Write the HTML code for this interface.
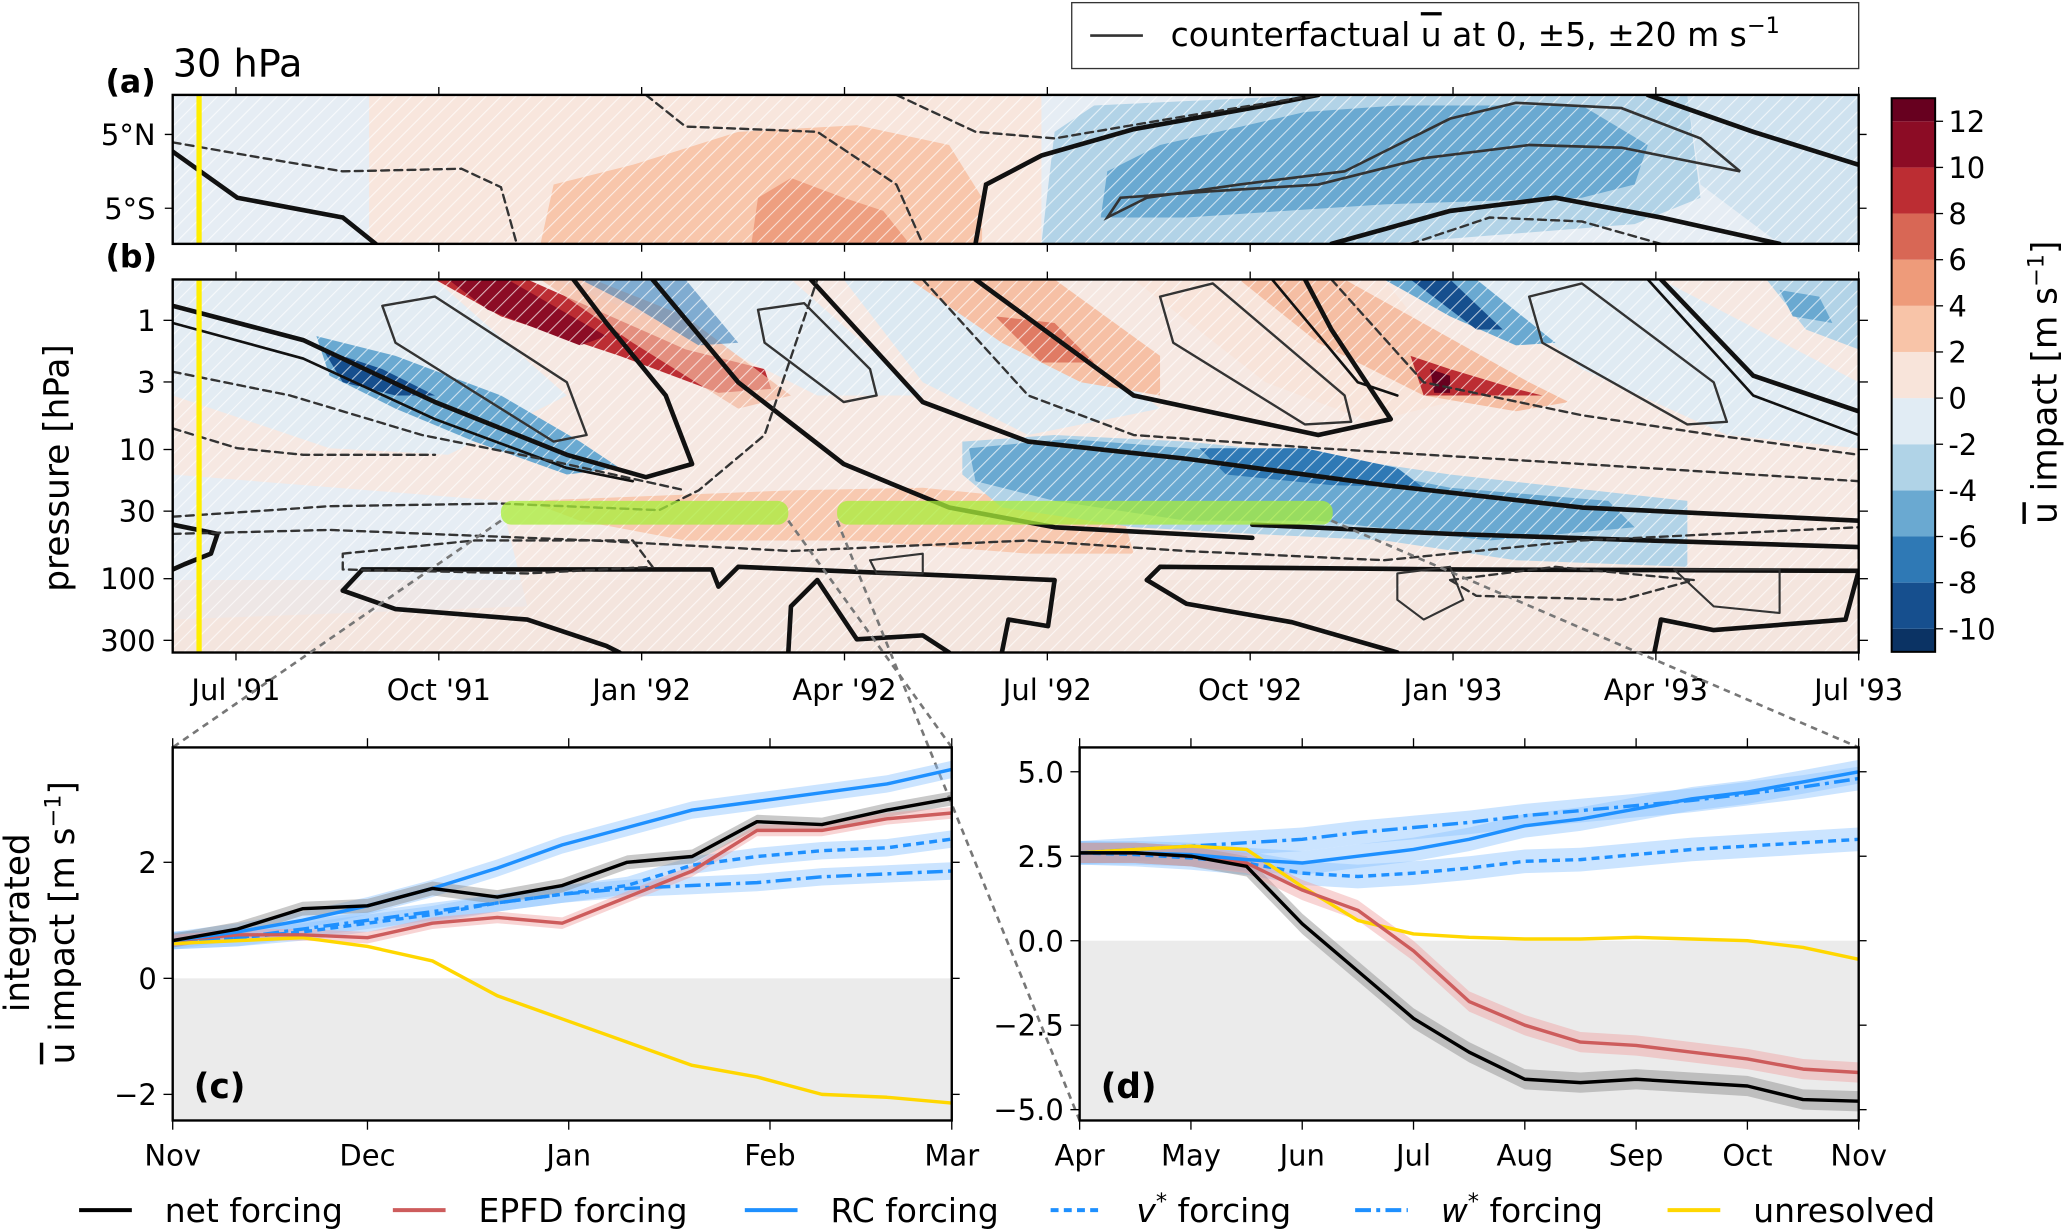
<!DOCTYPE html>
<html><head><meta charset="utf-8"><style>
html,body{margin:0;padding:0;background:#fff;}
svg{display:block;font-family:"DejaVu Sans","Liberation Sans",sans-serif;}
</style></head><body>
<svg id="fig" width="2067" height="1232" viewBox="0 0 1568 934.6" xmlns="http://www.w3.org/2000/svg">
<defs>
<pattern id="hatch" patternUnits="userSpaceOnUse" width="8" height="8" patternTransform="rotate(45)">
<line x1="0" y1="0" x2="0" y2="8" stroke="#fff" stroke-width="1.6" opacity="0.7"/>
</pattern>
<clipPath id="clipA"><rect x="131" y="72" width="1279" height="113"/></clipPath>
<clipPath id="clipB"><rect x="131" y="212" width="1279" height="283"/></clipPath>
<clipPath id="clipC"><rect x="131" y="567" width="591" height="283"/></clipPath>
<clipPath id="clipD"><rect x="819" y="567" width="591" height="283"/></clipPath>
</defs>

<!-- legend top -->
<g>
<rect x="813" y="2" width="597" height="50" fill="#fff" stroke="#333" stroke-width="1"/>
<line x1="827" y1="27" x2="867" y2="27" stroke="#333" stroke-width="2"/>
<text x="888" y="35" font-size="25">counterfactual <tspan text-decoration="overline">u</tspan> at 0, ±5, ±20 m s<tspan dy="-10" font-size="17">−1</tspan></text>
</g>

<!-- panel a -->
<g>
<text x="80" y="70" font-size="24" font-weight="bold">(a)</text>
<text x="131" y="58" font-size="29">30 hPa</text>
<g clip-path="url(#clipA)">
<rect x="131" y="72" width="1279" height="113" fill="#e6edf4"/>
<path d="M280,72 L790,72 L790,185 L280,185 Z" fill="#f8e6dd"/>
<path d="M410,185 L420,140 L480,125 L560,100 L650,95 L720,110 L745,150 L745,185 Z" fill="#f8c6ab"/>
<path d="M570,185 L575,150 L600,135 L640,150 L670,160 L690,185 Z" fill="#ee9f80"/>
<path d="M790,185 L800,100 L830,80 L1000,72 L1280,72 L1290,150 L1240,170 L1050,185 Z" fill="#b2d3e7"/>
<path d="M835,165 L840,130 L880,110 L990,85 L1060,80 L1200,80 L1250,110 L1240,140 L1200,150 L1050,155 L900,165 Z" fill="#6aa9d1"/>
<path d="M1280,72 L1410,72 L1410,185 L1350,185 L1290,140 Z" fill="#cfe2ef"/>
<rect x="131" y="72" width="1279" height="113" fill="url(#hatch)"/>
<g fill="none" stroke="#111" stroke-linecap="round">
<path d="M131,115 L180,150 L260,165 L285,185" stroke-width="3.5"/>
<path d="M740,185 L748,140 L790,118 L860,98 L960,80 L1000,72" stroke-width="3.5"/>
<path d="M1010,185 L1100,160 L1180,150 L1260,165 L1350,185" stroke-width="3.5"/>
<path d="M1250,72 L1330,100 L1410,125" stroke-width="3.5"/>
<path d="M840,165 L850,150 L920,145 L1000,140 L1080,120 L1160,110 L1230,112 L1320,130 L1290,105 L1230,82 L1150,78 L1100,90 L1020,130 L940,140 L870,150 Z" stroke-width="2" stroke="#333"/>
<path d="M131,108 L200,120 L260,130 L350,128 L380,142 L392,185" stroke-width="1.8" stroke-dasharray="6,4" stroke="#333"/>
<path d="M490,72 L520,96 L620,100 L680,140 L700,185" stroke-width="1.8" stroke-dasharray="6,4" stroke="#333"/>
<path d="M680,72 L740,100 L800,105 L900,88 L1000,72" stroke-width="1.8" stroke-dasharray="6,4" stroke="#333"/>
<path d="M1070,185 L1130,165 L1200,168 L1260,185" stroke-width="1.8" stroke-dasharray="6,4" stroke="#333"/>
</g>
</g>
<line x1="151" y1="72" x2="151" y2="185" stroke="#ffee00" stroke-width="4"/>
<rect x="131" y="72" width="1279" height="113" fill="none" stroke="#000" stroke-width="1.8"/>
<g font-size="22" text-anchor="end">
<text x="118" y="110">5°N</text><text x="118" y="166">5°S</text>
</g>
<path d="M125,102 h6 M125,158 h6 M1410,102 h6 M1410,158 h6" stroke="#000"/>
</g>

<!-- panel b -->
<g>
<text x="80" y="203" font-size="24" font-weight="bold">(b)</text>
<g clip-path="url(#clipB)">
<rect x="131" y="212" width="1279" height="283" fill="#f6e8e2"/>
<path d="M131,212 L330,212 L430,300 L340,345 L250,340 L131,300 Z" fill="#e3ecf3"/>
<path d="M131,360 L380,380 L400,460 L131,470 Z" fill="#e6edf4"/>
<path d="M420,212 L600,212 L700,300 L620,300 L540,260 Z" fill="#e3ecf3"/>
<path d="M640,212 L760,212 L880,310 L780,330 L700,290 Z" fill="#dce9f2"/>
<path d="M860,212 L1050,212 L1120,300 L1040,320 L960,290 Z" fill="#f8e4da"/>
<path d="M1120,212 L1260,212 L1410,290 L1410,340 L1310,330 L1200,280 Z" fill="#e0ebf3"/>
<path d="M240,255 L300,270 L380,300 L440,335 L470,355 L430,360 L360,335 L300,310 L250,285 Z" fill="#6aa9d1"/>
<path d="M245,265 L290,280 L330,300 L300,300 L260,290 Z" fill="#164f8e"/>
<path d="M330,212 L400,212 L520,265 L580,280 L585,295 L545,298 L470,270 L380,240 Z" fill="#bc2d33"/>
<path d="M340,212 L385,212 L460,255 L440,262 L370,235 Z" fill="#8c0c25"/>
<path d="M410,212 L450,212 L520,240 L600,300 L560,310 L480,260 Z" fill="#f3b89e" opacity="0.7"/>
<path d="M440,212 L520,212 L560,260 L530,262 L480,232 Z" fill="#2f79b5" opacity="0.55"/>
<path d="M690,212 L800,212 L880,270 L880,300 L820,290 L760,260 Z" fill="#f6c0a5"/>
<path d="M755,240 L800,245 L830,275 L790,275 Z" fill="#e07b64"/>
<path d="M940,212 L1020,212 L1160,290 L1190,305 L1150,312 L1080,300 L1000,260 Z" fill="#f5bea3"/>
<path d="M1070,270 L1100,280 L1150,295 L1170,300 L1120,300 L1080,300 Z" fill="#bc2d33"/>
<path d="M1085,280 L1100,285 L1100,298 L1088,298 Z" fill="#67001f"/>
<path d="M1050,212 L1120,212 L1180,260 L1150,262 L1100,240 Z" fill="#6aa9d1"/>
<path d="M1070,212 L1100,212 L1140,250 L1120,250 Z" fill="#164f8e"/>
<path d="M1340,212 L1410,212 L1410,265 L1370,250 Z" fill="#b2d3e7"/>
<path d="M1350,220 L1380,225 L1390,245 L1360,240 Z" fill="#6aa9d1"/>
<path d="M400,380 L600,372 L700,370 L850,385 L860,420 L780,420 L650,410 L520,410 L440,395 Z" fill="#f8c9b0"/>
<path d="M730,335 L800,330 L900,335 L1000,345 L1100,360 L1280,380 L1280,430 L1150,425 L1050,410 L950,405 L860,400 L760,385 L730,360 Z" fill="#b2d3e7"/>
<path d="M735,340 L810,333 L900,340 L1000,350 L1100,370 L1220,380 L1240,400 L1130,410 L1000,395 L900,395 L800,380 L740,365 Z" fill="#6aa9d1"/>
<path d="M910,340 L990,340 L1060,355 L1080,370 L1010,368 L930,360 Z" fill="#2f79b5"/>
<path d="M131,440 L1410,440 L1410,495 L131,495 Z" fill="#f3e2dc" opacity="0.6"/>
<rect x="131" y="212" width="1279" height="283" fill="url(#hatch)"/>
<g fill="none" stroke="#111" stroke-linecap="round" stroke-linejoin="round">
<path d="M131,232 L230,258 L330,305 L430,345 L490,362 L525,352 L505,300 L460,245 L435,212" stroke-width="3.5"/>
<path d="M131,245 L230,272 L330,318 L430,355 L480,365" stroke-width="2"/>
<path d="M495,212 L560,290 L640,352 L720,385 L800,400 L950,408" stroke-width="3.5"/>
<path d="M615,212 L700,305 L780,335 L900,348 L1050,368 L1200,385 L1410,395" stroke-width="3.5"/>
<path d="M740,212 L860,300 L1000,330 L1055,318 L1010,250 L990,212" stroke-width="3.5"/>
<path d="M965,212 L1030,290 L1060,300" stroke-width="2"/>
<path d="M1260,212 L1330,285 L1410,312" stroke-width="3.5"/>
<path d="M1250,212 L1330,300 L1410,330" stroke-width="2"/>
<path d="M950,398 L1100,405 L1250,410 L1410,415" stroke-width="3.5"/>
<path d="M260,448 L275,432 L540,432 L545,445 L560,430 L800,440 L795,475 L765,470 L760,495" stroke-width="3.5"/>
<path d="M260,448 L300,462 L400,470 L460,490 L470,495" stroke-width="3.5"/>
<path d="M598,495 L600,460 L620,440 L640,470 L650,485 L700,482 L720,495" stroke-width="3.5"/>
<path d="M870,440 L880,430 L1100,432 L1410,433 L1400,470 L1300,478 L1260,470 L1255,495" stroke-width="3.5"/>
<path d="M1060,495 L980,472 L900,458 L870,440" stroke-width="3.5"/>
<path d="M131,398 L165,405 L160,420 L140,428 L131,432" stroke-width="3.5"/>
<path d="M290,232 L330,225 L430,290 L445,330 L420,335 L300,260 Z" stroke-width="1.8" stroke="#333"/>
<path d="M575,235 L610,230 L660,280 L665,300 L640,305 L580,260 Z" stroke-width="1.8" stroke="#333"/>
<path d="M880,225 L920,215 L1020,300 L1025,320 L990,322 L890,260 Z" stroke-width="1.8" stroke="#333"/>
<path d="M1160,225 L1200,215 L1300,290 L1310,320 L1280,322 L1170,260 Z" stroke-width="1.8" stroke="#333"/>
<path d="M660,425 L700,420 L700,435 L665,435 Z" stroke-width="1.6" stroke="#333"/>
<path d="M1060,435 L1100,430 L1110,455 L1080,470 L1060,455 Z" stroke-width="1.6" stroke="#333"/>
<path d="M1270,432 L1350,432 L1350,465 L1300,460 Z" stroke-width="1.6" stroke="#333"/>
<g stroke="#333" stroke-width="1.8" stroke-dasharray="6,4">
<path d="M131,392 L250,384 L380,382 L500,387 L530,372 L580,330 L620,212"/>
<path d="M131,405 L250,402 L450,410 L600,418 L780,410 L900,418 L1050,425 L1200,410 L1410,400"/>
<path d="M260,420 L360,410 L480,410 L495,430 L400,435 L260,432 Z"/>
<path d="M131,282 L220,300 L320,330 L420,350 L520,372"/>
<path d="M131,325 L180,340 L230,345 L330,345"/>
<path d="M700,212 L780,300 L860,330 L1000,340 L1200,352 L1410,365"/>
<path d="M1100,440 L1180,430 L1285,440 L1230,455 L1120,452 Z"/>
<path d="M1010,212 L1080,290 L1200,315 L1300,330 L1410,345"/>
</g>
</g>
<g>
<rect x="380" y="380" width="218" height="18" rx="8" fill="#a8ee3a" opacity="0.75"/>
<rect x="635" y="380" width="376" height="18" rx="8" fill="#a8ee3a" opacity="0.75"/>
</g>
</g>
<line x1="151" y1="212" x2="151" y2="495" stroke="#ffee00" stroke-width="4"/>
<rect x="131" y="212" width="1279" height="283" fill="none" stroke="#000" stroke-width="1.8"/>
<g id="bTicks"></g>
<text transform="translate(52,355) rotate(-90)" font-size="26" text-anchor="middle">pressure [hPa]</text>
</g>

<!-- connectors -->
<g stroke="#777" stroke-width="2" stroke-dasharray="5,4" fill="none">
<line x1="380" y1="395" x2="131" y2="567"/>
<line x1="598" y1="395" x2="722" y2="567"/>
<line x1="635" y1="395" x2="819" y2="850"/>
<line x1="1010" y1="395" x2="1410" y2="567"/>
</g>

<!-- colorbar -->
<g id="cbar"></g>
<text transform="translate(1560,290) rotate(-90)" font-size="26" text-anchor="middle"><tspan text-decoration="overline">u</tspan> impact [m s<tspan dy="-10" font-size="17">−1</tspan><tspan dy="10">]</tspan></text>

<!-- panels c,d -->
<g id="pc"></g>
<g id="pd"></g>
<text transform="translate(22,700) rotate(-90)" font-size="26" text-anchor="middle">integrated</text>
<text transform="translate(56,700) rotate(-90)" font-size="26" text-anchor="middle"><tspan text-decoration="overline">u</tspan> impact [m s<tspan dy="-10" font-size="17">−1</tspan><tspan dy="10">]</tspan></text>

<g id="legend"></g>
</svg>
<script>
// ---- data ----
const bMonths = ["Jul '91","Oct '91","Jan '92","Apr '92","Jul '92","Oct '92","Jan '93","Apr '93","Jul '93"];
const bMonthIdx = [1,4,7,10,13,16,19,22,25]; // months since Jun 1991
const pLabels = ["1","3","10","30","100","300"];
const pValues = [1,3,10,30,100,300];
const cbEdges = [-11,-10,-8,-6,-4,-2,0,2,4,6,8,10,12,13];
const cbColors = ["#0b3364","#164f8e","#2f79b5","#6aa9d1","#b0d3e7","#e1ecf4","#f8e4da","#f8c4a8","#ee9b7a","#d86755","#bc2d33","#8c0c25","#67001f"];
const cbTicks = [-10,-8,-6,-4,-2,0,2,4,6,8,10,12];

const cMonths = ["Nov","Dec","Jan","Feb","Mar"];
const cMonthDays = [0,30,61,92,120];
const cDays = [0,10,20,30,40,50,60,70,80,90,100,110,120];
const cNet = [0.65,0.85,1.2,1.25,1.55,1.4,1.6,2.0,2.1,2.7,2.65,2.9,3.1];
const cEPFD = [0.65,0.75,0.75,0.7,0.95,1.05,0.95,1.4,1.85,2.55,2.55,2.75,2.85];
const cRC = [0.65,0.8,1.0,1.25,1.55,1.9,2.3,2.6,2.9,3.05,3.2,3.35,3.6];
const cV = [0.65,0.7,0.8,0.95,1.1,1.3,1.45,1.6,1.95,2.1,2.2,2.25,2.4];
const cW = [0.65,0.7,0.85,1.0,1.15,1.3,1.45,1.55,1.6,1.65,1.75,1.8,1.85];
const cUnres = [0.6,0.65,0.7,0.55,0.3,-0.3,-0.7,-1.1,-1.5,-1.7,-2.0,-2.05,-2.15];
const cYTicks = [-2,0,2];

const dMonths = ["Apr","May","Jun","Jul","Aug","Sep","Oct","Nov"];
const dMonthPos = [0,1,2,3,4,5,6,7];
const dT = [0,0.5,1,1.5,2,2.5,3,3.5,4,4.5,5,5.5,6,6.5,7];
const dNet = [2.6,2.6,2.5,2.2,0.5,-0.9,-2.3,-3.3,-4.1,-4.2,-4.1,-4.2,-4.3,-4.7,-4.75];
const dEPFD = [2.6,2.6,2.5,2.3,1.5,0.9,-0.3,-1.8,-2.5,-3.0,-3.1,-3.3,-3.5,-3.8,-3.9];
const dRC = [2.6,2.6,2.55,2.4,2.3,2.5,2.7,3.0,3.4,3.6,3.9,4.2,4.4,4.7,5.0];
const dV = [2.6,2.55,2.45,2.3,2.0,1.9,2.0,2.15,2.35,2.4,2.55,2.7,2.8,2.9,3.0];
const dW = [2.6,2.7,2.8,2.9,3.0,3.2,3.35,3.5,3.7,3.85,4.0,4.15,4.35,4.55,4.8];
const dUnres = [2.6,2.7,2.8,2.7,1.6,0.6,0.2,0.1,0.05,0.05,0.1,0.05,0.0,-0.2,-0.55];
const dYTicks = [-5.0,-2.5,0.0,2.5,5.0];

const legendNames = ["net forcing","EPFD forcing","RC forcing","v* forcing","w* forcing","unresolved"];

// ---- helpers ----
const NS="http://www.w3.org/2000/svg";
function mk(tag,attrs,parent){const e=document.createElementNS(NS,tag);for(const k in attrs)e.setAttribute(k,attrs[k]);parent.appendChild(e);return e;}

// panel b axes
const bX = m => 131 + (m-0)*(1410-131)/25.2;
const pY = p => 243 + 98*Math.log10(p);
const bt=document.getElementById('bTicks');
bMonths.forEach((lab,i)=>{
  const x=179+ (bMonthIdx[i]-1)*(1410-179)/24;
  const t=mk('text',{x:x,y:531,'font-size':22,'text-anchor':'middle'},bt);t.textContent=lab;
  
  
  mk('line',{x1:x,y1:495,x2:x,y2:501,stroke:'#000'},bt);
  mk('line',{x1:x,y1:185,x2:x,y2:191,stroke:'#000'},bt);
  mk('line',{x1:x,y1:212,x2:x,y2:206,stroke:'#000'},bt);
  mk('line',{x1:x,y1:72,x2:x,y2:66,stroke:'#000'},bt);
});
pValues.forEach((p,i)=>{
  const y=pY(p);
  const t=mk('text',{x:118,y:y+8,'font-size':22,'text-anchor':'end'},bt);t.textContent=pLabels[i];
  
  
  mk('line',{x1:124,y1:y,x2:131,y2:y,stroke:'#000'},bt);
  mk('line',{x1:1410,y1:y,x2:1417,y2:y,stroke:'#000'},bt);
});

// colorbar
const cb=document.getElementById('cbar');
const cbY = v => 302 - v*17.5;
for(let i=0;i<cbColors.length;i++){
  const r=mk('rect',{x:1435,y:cbY(cbEdges[i+1]),width:33,height:cbY(cbEdges[i])-cbY(cbEdges[i+1]),fill:cbColors[i]},cb);
  
  
}
mk('rect',{x:1435,y:cbY(13),width:33,height:cbY(-11)-cbY(13),fill:'none',stroke:'#000','stroke-width':1.5},cb);
cbTicks.forEach(v=>{
  const y=cbY(v);
  mk('line',{x1:1468,y1:y,x2:1474,y2:y,stroke:'#000'},cb);
  const t=mk('text',{x:1478,y:y+8,'font-size':22},cb);t.textContent=(v<0?'-':'')+Math.abs(v);
  
  
});

// line panels
function panel(g,x0,x1,y0,y1,xmin,xmax,ymin,ymax,xs,series,xTickPos,xTickLab,yTicks,yFmt,label,bands){
  const X=v=>x0+(v-xmin)*(x1-x0)/(xmax-xmin);
  const Y=v=>y1-(v-ymin)*(y1-y0)/(ymax-ymin);
  const clip=g.id==='pc'?'url(#clipC)':'url(#clipD)';
  const inner=mk('g',{'clip-path':clip},g);
  mk('rect',{x:x0,y:Y(0),width:x1-x0,height:y1-Y(0),fill:'#ebebeb'},inner);
  bands.forEach(b=>{
    const s=series[b.i];
    let d='';
    xs.forEach((x,k)=>{d+=(k?'L':'M')+X(x)+','+Y(s.v[k]+b.w);});
    for(let k=xs.length-1;k>=0;k--)d+='L'+X(xs[k])+','+Y(s.v[k]-b.w);
    const p=mk('path',{d:d+'Z',fill:b.c,opacity:0.45},inner);
    
    
  });
  series.forEach(s=>{
    const pts=xs.map((x,k)=>X(x)+','+Y(s.v[k])).join(' ');
    const attrs={points:pts,fill:'none',stroke:s.c,'stroke-width':2.6,'stroke-linejoin':'round'};
    if(s.dash)attrs['stroke-dasharray']=s.dash;
    const pl=mk('polyline',attrs,inner);
    
    
  });
  mk('rect',{x:x0,y:y0,width:x1-x0,height:y1-y0,fill:'none',stroke:'#000','stroke-width':1.8},g);
  xTickPos.forEach((v,i)=>{
    const x=X(v);
    mk('line',{x1:x,y1:y1,x2:x,y2:y1+7,stroke:'#000'},g);
    mk('line',{x1:x,y1:y0,x2:x,y2:y0-7,stroke:'#000'},g);
    const t=mk('text',{x:x,y:y1+34,'font-size':22,'text-anchor':'middle'},g);t.textContent=xTickLab[i];
    
    
  });
  yTicks.forEach(v=>{
    const y=Y(v);
    mk('line',{x1:x0-7,y1:y,x2:x0,y2:y,stroke:'#000'},g);
    mk('line',{x1:x1,y1:y,x2:x1+6,y2:y,stroke:'#000'},g);
    const t=mk('text',{x:x0-12,y:y+8,'font-size':22,'text-anchor':'end'},g);t.textContent=yFmt(v);
    
    
  });
  const lt=mk('text',{x:x0+16,y:y1-17,'font-size':26,'font-weight':'bold'},g);lt.textContent=label;
}
const cols={net:'#000',epfd:'#cd5c5c',rc:'#1e90ff',v:'#1e90ff',w:'#1e90ff',un:'#ffd700'};
panel(document.getElementById('pc'),131,722,567,850,0,120,-2.45,3.98,cDays,[
  {name:'c-w-forcing',v:cW,c:cols.w,dash:'12,4,3,4'},
  {name:'c-v-forcing',v:cV,c:cols.v,dash:'6,4'},
  {name:'c-unresolved',v:cUnres,c:cols.un},
  {name:'c-epfd-forcing',v:cEPFD,c:cols.epfd},
  {name:'c-rc-forcing',v:cRC,c:cols.rc},
  {name:'c-net-forcing',v:cNet,c:cols.net}
],cMonthDays,cMonths,cYTicks,v=>(v<0?'−':'')+Math.abs(v),'(c)',
[{i:0,w:0.15,c:'#8cc4ff'},{i:1,w:0.15,c:'#8cc4ff'},{i:4,w:0.15,c:'#8cc4ff'},{i:5,w:0.12,c:'#888'},{i:3,w:0.1,c:'#f0a0a0'}]);
panel(document.getElementById('pd'),819,1410,567,850,0,7,-5.32,5.72,dT,[
  {name:'d-w-forcing',v:dW,c:cols.w,dash:'12,4,3,4'},
  {name:'d-v-forcing',v:dV,c:cols.v,dash:'6,4'},
  {name:'d-unresolved',v:dUnres,c:cols.un},
  {name:'d-epfd-forcing',v:dEPFD,c:cols.epfd},
  {name:'d-rc-forcing',v:dRC,c:cols.rc},
  {name:'d-net-forcing',v:dNet,c:cols.net}
],dMonthPos,dMonths,dYTicks,v=>(v<0?'−':'')+Math.abs(v).toFixed(1),'(d)',
[{i:0,w:0.35,c:'#8cc4ff'},{i:1,w:0.35,c:'#8cc4ff'},{i:4,w:0.35,c:'#8cc4ff'},{i:5,w:0.3,c:'#888'},{i:3,w:0.3,c:'#f0a0a0'}]);

// legend
const lg=document.getElementById('legend');
const legX=[60,298,565,797,1028,1265];
const legStyle=[{c:'#000'},{c:'#cd5c5c'},{c:'#1e90ff'},{c:'#1e90ff',d:'6,4'},{c:'#1e90ff',d:'12,4,3,4'},{c:'#ffd700'}];
legendNames.forEach((n,i)=>{
  const a={x1:legX[i],y1:918,x2:legX[i]+40,y2:918,stroke:legStyle[i].c,'stroke-width':3};
  if(legStyle[i].d)a['stroke-dasharray']=legStyle[i].d;
  const ln=mk('line',a,lg);
  
  
  const t=mk('text',{x:legX[i]+65,y:927,'font-size':25},lg);
  
  
  if(n.includes('*')){
    const ts=mk('tspan',{'font-style':'italic'},t);ts.textContent=n[0];
    const sup=mk('tspan',{dy:-10,'font-size':17},t);sup.textContent='*';
    const rest=mk('tspan',{dy:10},t);rest.textContent=n.slice(2);
  } else t.textContent=n;
});
</script>
</body></html>
